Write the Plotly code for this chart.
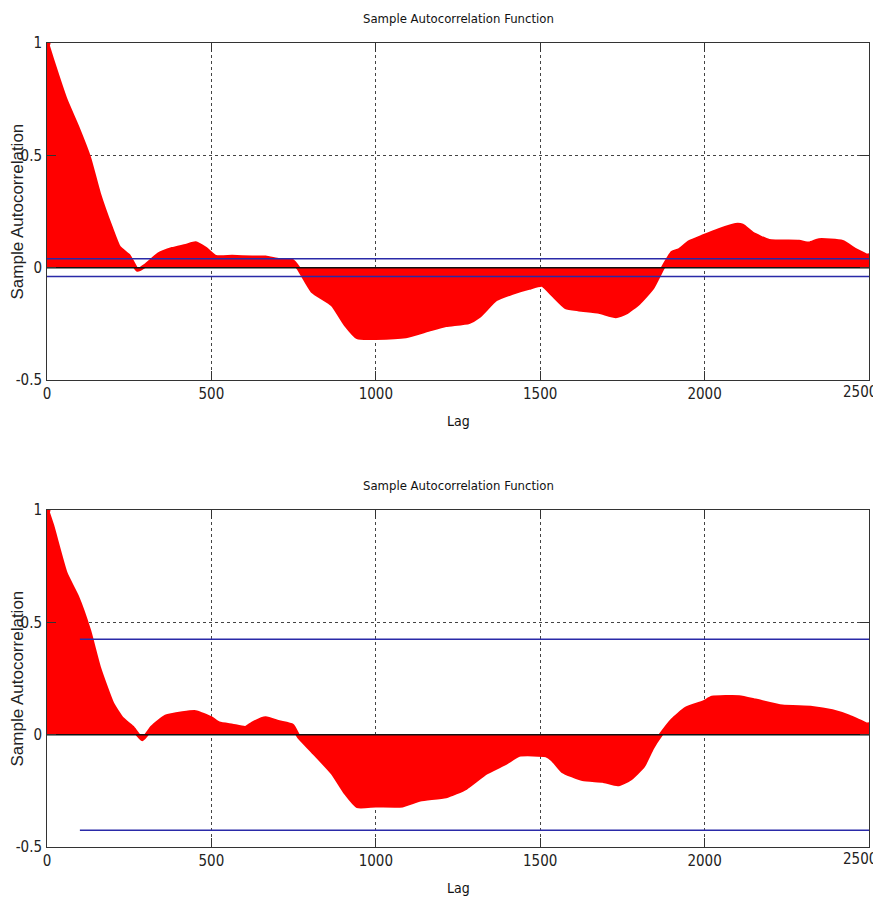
import plotly.graph_objects as go
from plotly.subplots import make_subplots

# ---- data ----
lags_top = [0, 16, 57, 92, 128, 158, 194, 219, 249, 275, 300, 340, 381, 422, 452, 483, 513,
            563, 624, 665, 706, 746, 766, 807, 868, 908, 944, 1000, 1091, 1162, 1213,
            1283, 1314, 1365, 1415, 1466, 1506, 1537, 1578, 1618, 1679, 1730, 1760,
            1800, 1841, 1871, 1902, 1922, 1953, 1997, 2044, 2094, 2115, 2145, 2196,
            2287, 2318, 2348, 2419, 2460, 2500]
acf_top = [1.0, 0.925, 0.746, 0.627, 0.49, 0.33, 0.18, 0.09, 0.052, -0.01, 0.01, 0.06, 0.083,
           0.097, 0.109, 0.083, 0.048, 0.048, 0.045, 0.045, 0.033, 0.03, -0.005, -0.104,
           -0.164, -0.253, -0.31, -0.313, -0.306, -0.276, -0.256, -0.242, -0.216,
           -0.141, -0.112, -0.09, -0.077, -0.119, -0.176, -0.186, -0.197, -0.216,
           -0.201, -0.157, -0.09, -0.006, 0.067, 0.077, 0.113, 0.14, 0.167, 0.19,
           0.187, 0.152, 0.119, 0.115, 0.107, 0.122, 0.115, 0.077, 0.048]

lags_bot = [0, 16, 57, 92, 128, 158, 199, 229, 259, 290, 320, 361, 412, 452, 498, 523, 564,
            604, 625, 665, 706, 746, 766, 807, 868, 908, 944, 1000, 1081, 1135, 1213,
            1274, 1335, 1396, 1436, 1518, 1537, 1568, 1629, 1690, 1736, 1772, 1813,
            1841, 1867, 1902, 1943, 1997, 2023, 2105, 2155, 2236, 2327, 2388, 2439, 2500]
acf_bot = [1.0, 0.93, 0.717, 0.613, 0.464, 0.30, 0.137, 0.07, 0.033, -0.02, 0.033, 0.08, 0.095,
           0.1, 0.074, 0.05, 0.04, 0.03, 0.05, 0.073, 0.055, 0.04, -0.01, -0.073, -0.17,
           -0.259, -0.318, -0.315, -0.315, -0.289, -0.274, -0.237, -0.17, -0.125, -0.09,
           -0.092, -0.11, -0.162, -0.198, -0.205, -0.221, -0.198, -0.14, -0.058, 0.0,
           0.065, 0.115, 0.144, 0.164, 0.167, 0.152, 0.125, 0.119, 0.104, 0.08, 0.04]

bounds_top = [0.04, -0.04]
bounds_top_x = [0, 2500]
bounds_bot = [0.425, -0.425]
bounds_bot_x = [100, 2500]

x_ticks = [0, 500, 1000, 1500, 2000, 2500]
x_ticklabels = ["0", "500", "1000", "1500", "2000", "2500"]
y_ticks = [-0.5, 0, 0.5, 1]
y_ticklabels = ["-0.5", "0", "0.5", "1"]
title_text = "Sample Autocorrelation Function"
xlabel = "Lag"
ylabel = "Sample Autocorrelation"

RED = "#ff0000"
BLUE = "#2a2aa8"
NARROW = "Liberation Sans Narrow, DejaVu Sans Condensed, Arial Narrow, sans-serif"
TICKFONT = dict(family=NARROW, size=15, color="#222222")

fig = make_subplots(rows=2, cols=1, vertical_spacing=0.0)

panels = [(lags_top, acf_top, bounds_top, bounds_top_x),
          (lags_bot, acf_bot, bounds_bot, bounds_bot_x)]

for i, (lx, ly, bnd, bx) in enumerate(panels, start=1):
    fig.add_trace(go.Scatter(x=lx, y=ly, mode="lines", fill="tozeroy",
                             fillcolor=RED,
                             line=dict(color=RED, width=4, shape="spline", smoothing=0.5),
                             hoverinfo="skip", showlegend=False), row=i, col=1)
    fig.add_trace(go.Scatter(x=[lx[0], lx[-1]], y=[ly[0], ly[-1]], mode="markers",
                             marker=dict(color=RED, size=7), showlegend=False),
                  row=i, col=1)
    fig.add_trace(go.Scatter(x=bounds_top_x, y=[0, 0], mode="lines",
                             line=dict(color="#111111", width=1.5), showlegend=False),
                  row=i, col=1)
    for b in bnd:
        fig.add_trace(go.Scatter(x=bx, y=[b, b], mode="lines",
                                 line=dict(color=BLUE, width=1.5), showlegend=False),
                      row=i, col=1)

axis_common = dict(showline=True, linecolor="#333333", linewidth=1, mirror="ticks",
                   ticks="inside", ticklen=9, tickcolor="#333333",
                   showgrid=True, gridcolor="#444444", griddash="dot", gridwidth=1,
                   zeroline=False, automargin=False, ticklabeloverflow="allow",
                   tickfont=TICKFONT)

# last x label (at the right edge) is placed as an annotation so it stays in the page
fig.update_xaxes(range=[0, 2500], tickvals=x_ticks,
                 ticktext=x_ticklabels[:-1] + [""], **axis_common)
fig.update_yaxes(range=[-0.5, 1], tickvals=y_ticks, ticktext=y_ticklabels,
                 ticklabelstandoff=1, **axis_common)

# the page body has an 8px margin, so the figure is sized to fit the window
fig.update_layout(
    width=873, height=889,
    margin=dict(l=39, r=12, t=35, b=50, autoexpand=False),
    paper_bgcolor="white", plot_bgcolor="white",
    showlegend=False,
)
fig.layout.yaxis.domain = [0.5809, 1.0]
fig.layout.yaxis2.domain = [0.0, 0.4192]

annos = []
for k, dom in enumerate((fig.layout.yaxis.domain, fig.layout.yaxis2.domain), start=1):
    top, bot = dom[1], dom[0]
    xref = "x" if k == 1 else "x2"
    annos.append(dict(text=x_ticklabels[-1], xref=xref, yref="paper", x=x_ticks[-1], y=bot,
                      xanchor="right", xshift=10, yanchor="top", yshift=-1,
                      showarrow=False, font=TICKFONT))
    annos.append(dict(text=title_text, xref="paper", yref="paper", x=0.5, y=top,
                      yshift=15, showarrow=False, yanchor="bottom",
                      font=dict(family=NARROW, size=13, color="#111111")))
    annos.append(dict(text=xlabel, xref="paper", yref="paper", x=0.5, y=bot,
                      yshift=-31, showarrow=False, yanchor="top",
                      font=dict(family=NARROW, size=14, color="#111111")))
    annos.append(dict(text=ylabel, xref="paper", yref="paper", x=0, y=(top + bot) / 2,
                      xshift=-30, showarrow=False, textangle=-90,
                      xanchor="center", yanchor="middle",
                      font=dict(family="Liberation Sans, Arial, sans-serif", size=17,
                                color="#222222")))
fig.update_layout(annotations=annos)

fig.write_html("out.html")
